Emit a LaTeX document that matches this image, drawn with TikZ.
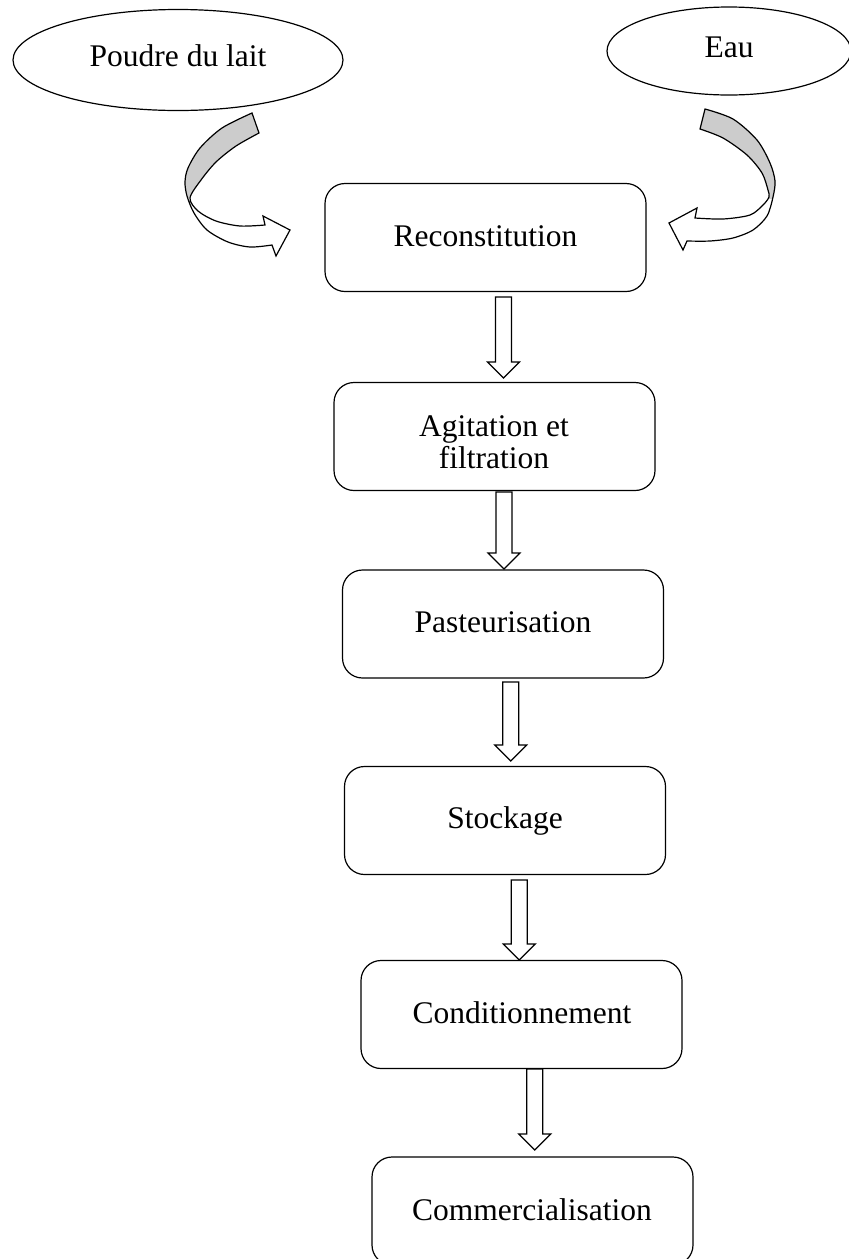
\documentclass[tikz,border=0pt]{standalone}
\usepackage{fontspec}
\setmainfont{Liberation Serif}
\usetikzlibrary{shapes.geometric}
\definecolor{bandgrey}{RGB}{204,204,204}
\tikzset{
  procbox/.style={draw, line width=0.6pt, rounded corners=10pt, minimum width=160.5pt, minimum height=54pt, inner sep=0pt},
  source/.style={draw, ellipse, line width=0.6pt, inner sep=0pt, font=\fontsize{15.75}{16}\selectfont, text height=0.66em, text depth=0pt},
  lbl/.style={inner sep=0pt, font=\fontsize{15.75}{16}\selectfont, text height=0.66em, text depth=0pt},
  hollow/.style={draw, fill=white, line width=0.6pt, line join=miter},
  band/.style={line width=0.6pt, line join=miter}
}
\newcommand\hollowdown[3]{% x, ytop, ytip
  \draw[hollow] ({#1-8},#2) -- ({#1+8},#2) -- ({#1+8},{#3-16}) -- ({#1+16},{#3-16}) -- (#1,#3) -- ({#1-16},{#3-16}) -- ({#1-8},{#3-16}) -- cycle;}
\begin{document}
\begin{tikzpicture}[x=0.5pt,y=-0.5pt]
\useasboundingbox (0,0) rectangle (849,1259);
\clip (0,0) rectangle (849,1259);

% sources
\node[source, minimum width=165pt, minimum height=50.5pt] (poudre) at (178,60) {Poudre du lait};
\node[source, minimum width=122pt, minimum height=44pt] (eau) at (729,51) {Eau};

% process boxes
\node[procbox] (recon) at (485.5,237.5) {};
\node[lbl] (recontxt) at (485.5,240) {Reconstitution};
\node[procbox] (agit) at (494.5,436.5) {};
\node[inner sep=0pt, align=center, font=\fontsize{15.75}{16}\selectfont] (agittxt) at (494,442) {Agitation et\\filtration};
\node[procbox] (past) at (503,624) {};
\node[lbl] (pasttxt) at (503,626) {Pasteurisation};
\node[procbox] (stock) at (505,820.5) {};
\node[lbl] (stocktxt) at (505,822) {Stockage};
\node[procbox] (cond) at (521.5,1014.5) {};
\node[lbl] (condtxt) at (522,1017) {Conditionnement};
\node[procbox] (comm) at (532.5,1211) {};
\node[lbl] (commtxt) at (532,1213.5) {Commercialisation};

% hollow down arrows
\hollowdown{503.5}{297}{378}
\hollowdown{504}{492}{569}
\hollowdown{510.7}{682}{761}
\hollowdown{519.3}{880}{960}
\hollowdown{534.8}{1069}{1150}

% left curved arrow
\path[save path=\leftband] plot[smooth] coordinates {(252,113) (222,128) (200,148) (188,168) (185,182) (187,196) (194,213) (207,230) (228,242) (250,247) (272,245)}
  -- (276,256) -- (290,230) -- (263,216)
  -- plot[smooth] coordinates {(265,225) (240,226) (216,221) (198,211) (190,198) (201,180) (216,162) (236,146) (259,133)} -- cycle;
\fill[white, use path=\leftband];
\begin{scope}
  \clip (0,0) rectangle (849,197);
  \fill[bandgrey, use path=\leftband];
\end{scope}
\draw[band, use path=\leftband];

% right curved arrow
\path[save path=\rightband] plot[smooth] coordinates {(705,109) (733,119) (757,140) (770,163) (775,181) (773,197) (767,216) (753,230) (733,238) (710,241) (687,241)}
  -- (683,250) -- (669,223) -- (697,208)
  -- plot[smooth] coordinates {(695,218) (723,219) (750,215) (763,205) (769,197) (768,190) (762,173) (747,155) (723,138) (700,129)} -- cycle;
\fill[white, use path=\rightband];
\begin{scope}
  \clip (0,0) rectangle (849,198);
  \fill[bandgrey, use path=\rightband];
\end{scope}
\draw[band, use path=\rightband];
\end{tikzpicture}
\end{document}
